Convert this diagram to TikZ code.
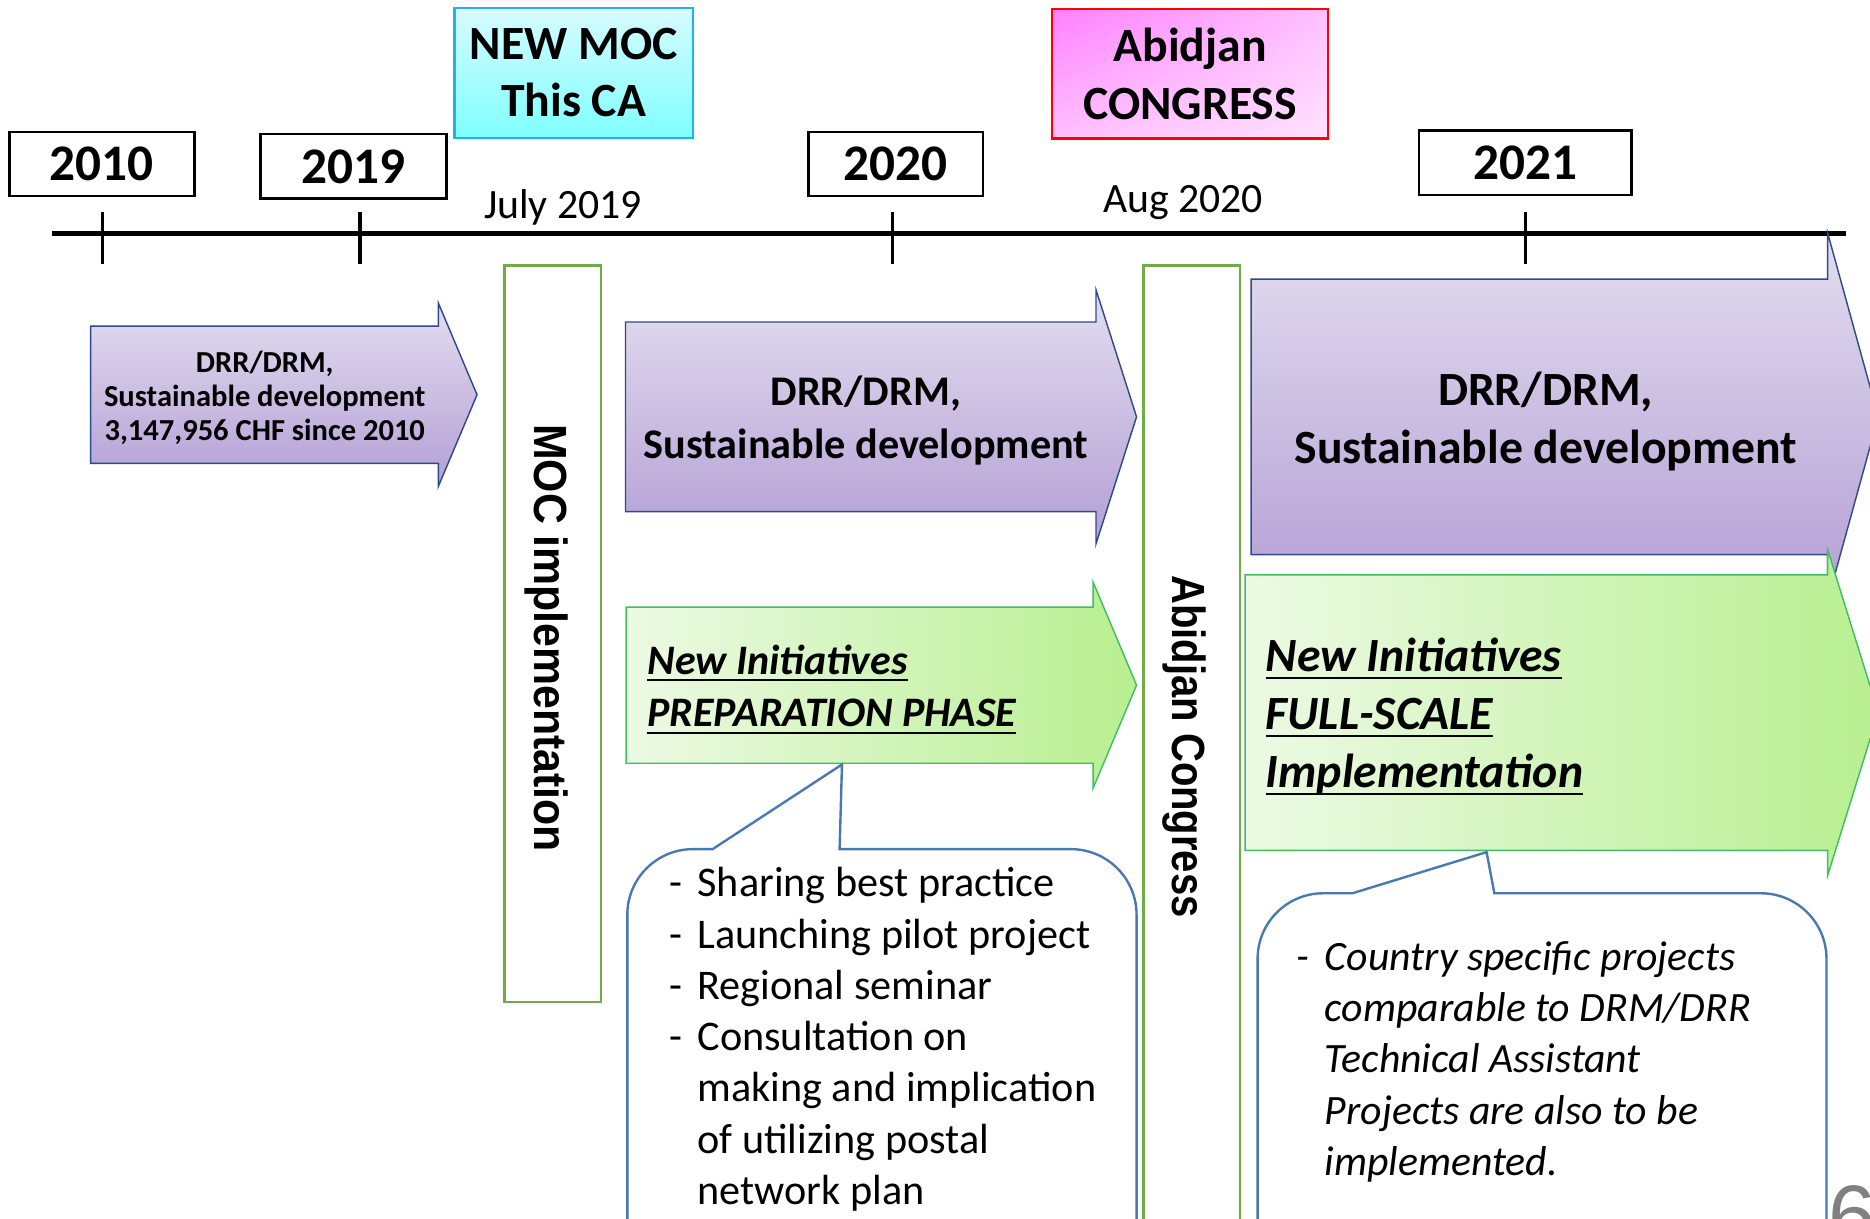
\documentclass[tikz,border=0pt]{standalone}
\usepackage{fontspec}
\setmainfont{Carlito}
\newfontfamily\arialfont{Liberation Sans}
\usepackage{graphicx}
\usetikzlibrary{shadings}
\definecolor{lilactop}{HTML}{E3DDEF}
\definecolor{lilacbot}{HTML}{B39FD5}
\definecolor{navyline}{HTML}{2E4A8C}
\definecolor{leafleft}{HTML}{ECFAE4}
\definecolor{leafright}{HTML}{B8EF90}
\definecolor{leafline}{HTML}{3CC060}
\definecolor{barline}{HTML}{70AD47}
\definecolor{callline}{HTML}{4A78B0}
\definecolor{cyantop}{HTML}{D6FBFF}
\definecolor{cyanbot}{HTML}{80FFFF}
\definecolor{cyanline}{HTML}{1EB4F0}
\definecolor{pinkA}{HTML}{FF80FF}
\definecolor{pinkB}{HTML}{FFC0FF}
\definecolor{pinkC}{HTML}{FFE2FF}
\newcommand\itemdash{\makebox[11.75pt][l]{-}}
\newcommand\itemgap{\hspace*{11.75pt}}
\newsavebox\ulinebox
\newcommand\uline[1]{\sbox\ulinebox{#1}\rlap{\rule[-3pt]{\wd\ulinebox}{0.9pt}}\usebox\ulinebox}

\begin{document}
\begin{tikzpicture}[x=0.5pt,y=-0.5pt,
    year/.style={draw,line width=1pt,inner sep=0pt,minimum height=27pt,
      font=\bfseries\fontsize{21.5}{24}\selectfont},
    event/.style={line width=1pt,inner sep=0pt,align=center,
      font=\bfseries\fontsize{20}{24}\selectfont},
    month/.style={inner sep=0pt,font=\fontsize{17.5}{20}\selectfont},
    bar/.style={draw=barline,line width=1pt,fill=white,inner sep=0pt,minimum width=40.5pt},
    bartext/.style={inner sep=0pt,rotate=-90,font=\arialfont\bfseries\fontsize{19.5}{22}\selectfont},
    lilac/.style={top color=lilactop,bottom color=lilacbot,draw=navyline,line width=0.6pt},
    leaf/.style={left color=leafleft,right color=leafright,draw=leafline,line width=0.6pt},
    plain/.style={inner sep=0pt,align=center,font=\bfseries},
    callout/.style={draw=callline,line width=1pt,fill=white},
    notes/.style={anchor=north west,inner sep=0pt,align=left}]
  \useasboundingbox (0,0) rectangle (1568,1021.5);
  \clip (0,0) rectangle (1568,1021.5);

  % time line
  \draw[line width=2.25pt] (44,196) coordinate (start) -- (1548,196) coordinate (end);
  \foreach \x/\n in {86/a,302/b,748.5/c,1279/d}
    \draw[line width=1.5pt] (\x,178) coordinate (tick\n) -- (\x,221);
  \node[year,minimum width=77.5pt](y2010) at (85.5,137.5){2010};
  \node[year,minimum width=78pt](y2019) at (296.5,139.5){2019};
  \node[year,minimum width=73pt](y2020) at (751,137.5){2020};
  \node[year,minimum width=89pt](y2021) at (1279,136.5){2021};
  \node[event,draw=cyanline,top color=cyantop,bottom color=cyanbot,
    minimum width=100pt,minimum height=54.5pt](newmoc) at (481,61){NEW MOC\\This CA};
  \node[event,draw=red,upper left=pinkA,upper right=pinkB,lower left=pinkB,lower right=pinkC,
    minimum width=115.75pt,minimum height=54.25pt](congress) at (998,62){Abidjan\\CONGRESS};
  \node[month](july) at (472,174){July 2019};
  \node[month](aug) at (992,170){Aug 2020};

  % vertical bars
  \node[bar,minimum height=308.75pt](mocbar) at (463.5,531.25){};
  \node[bartext](moctext) at (458,535){\scalebox{0.92}[1]{MOC implementation}};
  \node[bar,minimum height=408.75pt](abibar) at (999.25,631.25){};
  \node[bartext](abitext) at (993,626){\scalebox{0.86}[1]{Abidjan Congress}};

  % DRR/DRM arrows
  \shadedraw[lilac] (76,273.5) -- (367.5,273.5) -- (367.5,254) -- (400,331)
    -- (367.5,408) -- (367.5,388.5) -- (76,388.5) -- cycle;
  \node[plain,font=\bfseries\fontsize{12.8}{14.25}\selectfont](drr0) at (222,334)
    {DRR/DRM,\\Sustainable development\\3,147,956 CHF since 2010};
  \shadedraw[lilac] (524.5,270) -- (919,270) -- (919,243) -- (953,349.5)
    -- (919,456) -- (919,429) -- (524.5,429) -- cycle;
  \node[plain,font=\bfseries\fontsize{17.7}{22}\selectfont](drr1) at (726,352.5)
    {DRR/DRM,\\Sustainable development};
  \shadedraw[lilac] (1049,234) -- (1532.5,234) -- (1532.5,195.5) -- (1575,349.5)
    -- (1532.5,503.5) -- (1532.5,465) -- (1049,465) -- cycle;
  \node[plain,font=\bfseries\fontsize{20}{24.5}\selectfont](drr2) at (1296,353.5)
    {DRR/DRM,\\Sustainable development};

  % new initiatives arrows
  \shadedraw[leaf] (525,509) -- (916.5,509) -- (916.5,488) -- (953,574.5)
    -- (916.5,661) -- (916.5,640) -- (525,640) -- cycle;
  \node[plain,anchor=west,align=left,font=\bfseries\itshape\fontsize{17.6}{22}\selectfont](prep)
    at (542.5,578){\uline{New Initiatives}\\\uline{PREPARATION PHASE}};
  \shadedraw[leaf] (1044,482) -- (1532.5,482) -- (1532.5,461) -- (1575,597.5)
    -- (1532.5,734) -- (1532.5,713) -- (1044,713) -- cycle;
  \node[plain,anchor=west,align=left,font=\bfseries\itshape\fontsize{20}{24.25}\selectfont](full)
    at (1061,601){\uline{New Initiatives}\\\uline{FULL-SCALE}\\\uline{Implementation}};

  % call-outs
  \draw[callout] (526,1060) [rounded corners=27.5pt] -- (526,712) [sharp corners]
    -- (597.5,712) -- (706,641) -- (704,712) [rounded corners=27.5pt]
    -- (953,712) [sharp corners] -- (953,1060);
  \node[notes,font=\fontsize{17.7}{21.5}\selectfont](prepnotes) at (561,727)
    {\itemdash Sharing best practice\\
     \itemdash Launching pilot project\\
     \itemdash Regional seminar\\
     \itemdash Consultation on\\
     \itemgap making and implication\\
     \itemgap of utilizing postal\\
     \itemgap network plan};
  \draw[callout] (1054.5,1060) [rounded corners=27.5pt] -- (1054.5,749) [sharp corners]
    -- (1134,749) -- (1246.5,714.5) -- (1253,749) [rounded corners=27.5pt]
    -- (1531.5,749) [sharp corners] -- (1531.5,1060);
  \node[notes,font=\itshape\fontsize{17.5}{21.5}\selectfont](fullnotes) at (1087,789)
    {\itemdash Country specific projects\\
     \itemgap comparable to DRM/DRR\\
     \itemgap Technical Assistant\\
     \itemgap Projects are also to be\\
     \itemgap implemented.};

  \node[anchor=base west,inner sep=0pt,text=gray,font=\arialfont\fontsize{36}{40}\selectfont](page)
    at (1533,1044){6};
\end{tikzpicture}
\end{document}
